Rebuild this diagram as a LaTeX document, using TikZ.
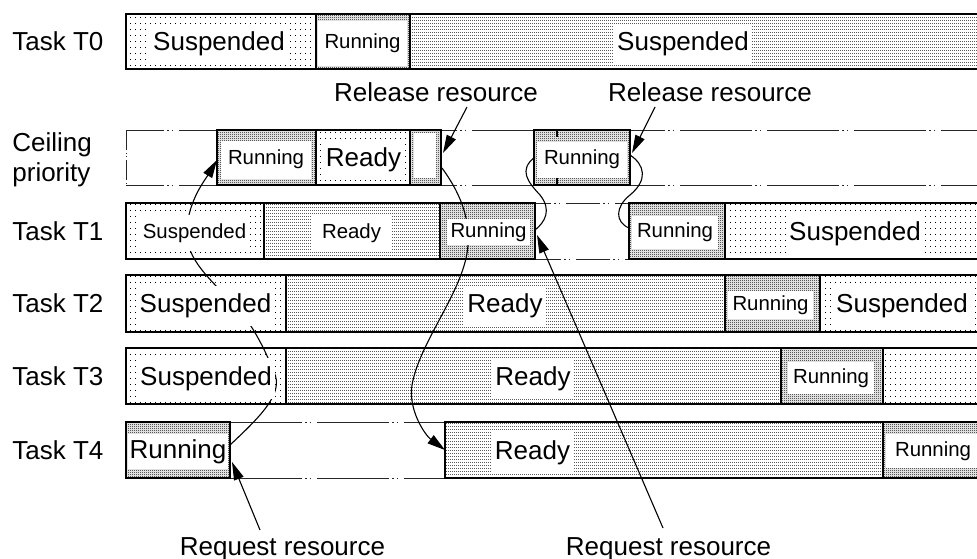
\documentclass[tikz,border=0pt]{standalone}
\usepackage{fontspec}
\setmainfont{Liberation Sans}
\usetikzlibrary{patterns,fit,arrows.meta}
\pgfdeclarepatternformonly{spd}{\pgfqpoint{0pt}{0pt}}{\pgfqpoint{2.5pt}{3pt}}{\pgfqpoint{2.5pt}{3pt}}{%
  \pgfpathrectangle{\pgfqpoint{0pt}{0pt}}{\pgfqpoint{0.55pt}{0.55pt}}\pgfusepath{fill}}
\pgfdeclarepatternformonly{rdy}{\pgfqpoint{0pt}{0pt}}{\pgfqpoint{1pt}{1.5pt}}{\pgfqpoint{1pt}{1.5pt}}{%
  \pgfpathrectangle{\pgfqpoint{0pt}{0pt}}{\pgfqpoint{0.5pt}{0.5pt}}\pgfusepath{fill}}
\pgfdeclarepatternformonly{run}{\pgfqpoint{0pt}{0pt}}{\pgfqpoint{1pt}{1pt}}{\pgfqpoint{1pt}{1pt}}{%
  \pgfpathrectangle{\pgfqpoint{0pt}{0pt}}{\pgfqpoint{0.5pt}{0.5pt}}%
  \pgfpathrectangle{\pgfqpoint{0.5pt}{0.5pt}}{\pgfqpoint{0.5pt}{0.5pt}}\pgfusepath{fill}}
\tikzset{
  bx/.style={draw, line width=1.1pt, inner sep=0pt},
  fbig/.style={font=\fontsize{13}{15}\selectfont, text height=9.5pt, text depth=2.75pt},
  fsmall/.style={font=\fontsize{10.2}{12}\selectfont, text height=7.5pt, text depth=2.2pt},
  wb/.style={fill=white, inner xsep=1.5pt, inner ysep=4pt},
  rw/.style={fill=white, inner sep=0pt},
  lab/.style={fbig, inner sep=0pt},
  dd/.style={draw=black!85, line width=0.5pt, dash pattern=on 36pt off 1.5pt on 1pt off 1.5pt on 0.5pt off 3pt},
  ddshort/.style={draw=black!85, line width=0.5pt, dash pattern=on 17pt off 1.5pt on 1pt off 1.5pt on 0.5pt off 3pt},
  conn/.style={line width=0.55pt},
  arr/.style={conn, -{Triangle[length=9pt,width=5pt]}},
}
\begin{document}
\begin{tikzpicture}[x=0.5pt,y=-0.5pt]
\useasboundingbox (0,0) rectangle (977,558);

% dash-dot outlines of idle stretches
\draw[dd, dash phase=17pt] (126,130) -- (217,130);
\draw[dd, dash phase=17pt] (126,185) -- (217,185);
\draw[draw=black!85, line width=0.5pt, dash pattern=on 10pt off 1.5pt on 0.5pt off 1pt on 0.5pt off 1.5pt] (126,130) -- (126,185);
\draw[dd, dash phase=28pt] (441,130) -- (534,130);
\draw[dd, dash phase=28pt] (441,185) -- (534,185);
\draw[dd, dash phase=18.5pt] (630,130) -- (990,130);
\draw[dd, dash phase=18.5pt] (630,185) -- (990,185);
\draw[ddshort, dash phase=9pt] (535,203) -- (629,203);
\draw[ddshort, dash phase=4pt] (535,259) -- (629,259);
\draw[dd, dash phase=0pt] (230,422) -- (445,422);
\draw[dd, dash phase=0pt] (230,478) -- (445,478);

% Task T0
\node[bx,pattern=spd,fit={(126,14) (316,69)}] (t0a) {};
\node[bx,pattern=run,fit={(316,14) (410,69)}] (t0b) {};
\node[bx,pattern=rdy,fit={(410,14) (990,69)}] (t0c) {};
% Ceiling priority
\node[bx,pattern=run,fit={(217,130) (316,185)}] (ca) {};
\node[bx,pattern=spd,fit={(316,130) (410,185)}] (cb) {};
\node[bx,pattern=run,fit={(410,130) (441,185)}] (cc) {};
\node[bx,pattern=run,fit={(534,130) (630,185)}] (cd) {};
\draw[line width=1.1pt] (557,130) -- (557,137) (557,178) -- (557,185);
% Task T1
\node[bx,pattern=spd,fit={(126,203) (264,259)}] (t1a) {};
\node[bx,pattern=rdy,fit={(264,203) (440,259)}] (t1b) {};
\node[bx,pattern=run,fit={(440,203) (535,259)}] (t1c) {};
\node[bx,pattern=run,fit={(629,203) (725,259)}] (t1d) {};
\node[bx,pattern=spd,fit={(725,203) (990,259)}] (t1e) {};
% Task T2
\node[bx,pattern=spd,fit={(126,275) (286,332)}] (t2a) {};
\node[bx,pattern=rdy,fit={(286,275) (725,332)}] (t2b) {};
\node[bx,pattern=run,fit={(725,275) (820,332)}] (t2c) {};
\node[bx,pattern=spd,fit={(820,275) (990,332)}] (t2d) {};
% Task T3
\node[bx,pattern=spd,fit={(126,348) (286,404)}] (t3a) {};
\node[bx,pattern=rdy,fit={(286,348) (781,404)}] (t3b) {};
\node[bx,pattern=run,fit={(781,348) (883,404)}] (t3c) {};
\node[bx,pattern=spd,fit={(883,348) (990,404)}] (t3d) {};
% Task T4
\node[bx,pattern=run,fit={(126,422) (230,478)}] (t4a) {};
\node[bx,pattern=rdy,fit={(445,422) (883,478)}] (t4b) {};
\node[bx,pattern=run,fit={(883,422) (990,478)}] (t4c) {};

% connectors
\coordinate (a0) at (230,445);
\coordinate (a1) at (274,372);
\coordinate (a2) at (232,302);
\coordinate (a3) at (187,228);
\coordinate (a4) at (217,160);
\draw[arr] (a0) .. controls (262,415) and (284,393) .. (a1)
  .. controls (264,347) and (250,320) .. (a2)
  .. controls (205,275) and (184,255) .. (a3)
  .. controls (189,200) and (205,180) .. (a4);

\coordinate (b0) at (442,168);
\coordinate (b1) at (468,245);
\coordinate (b2) at (412,385);
\coordinate (b3) at (445,450);
\draw[arr] (b0) .. controls (458,190) and (470,215) .. (b1)
  .. controls (465,290) and (420,340) .. (b2)
  .. controls (408,410) and (425,435) .. (b3);

\coordinate (c0) at (535,230);
\coordinate (c1) at (540,195);
\coordinate (c2) at (535,157);
\draw[conn] (c0) .. controls (545,222) and (552,210) .. (c1)
  .. controls (528,182) and (518,170) .. (c2);

\coordinate (d0) at (630,155);
\coordinate (d1) at (630,195);
\coordinate (d2) at (629,228);
\draw[conn] (d0) .. controls (645,165) and (648,180) .. (d1)
  .. controls (615,207) and (615,222) .. (d2);

% state texts
\node[fbig,wb] (t0at) at (219,44) {Suspended};
\node[fsmall,rw,minimum width=44.5pt,minimum height=22.5pt] (t0bt) at (362.5,43.5) {Running};
\node[fbig,wb] (t0ct) at (683,44) {Suspended};

\node[fsmall,rw,minimum width=45pt,minimum height=19pt] (cat) at (266,159.5) {Running};
\node[fbig,wb] (cbt) at (363.5,160) {Ready};
\node[rw,minimum width=11pt,minimum height=22.5pt] (cct) at (425,155.5) {};
\node[fsmall,rw,minimum width=45pt,minimum height=18pt] (cdt) at (582,159.5) {Running};

\node[fsmall,wb] (t1at) at (194.5,233) {Suspended};
\node[fsmall,wb,minimum width=39.5pt] (t1bt) at (351.5,233) {Ready};
\node[fsmall,rw,minimum width=41.5pt,minimum height=13pt] (t1ct) at (488.5,232) {Running};
\node[fsmall,rw,minimum width=43pt,minimum height=16.5pt] (t1dt) at (675,232) {Running};
\node[fbig,wb] (t1et) at (855,233.5) {Suspended};

\node[fbig,wb] (t2at) at (205.5,306) {Suspended};
\node[fbig,wb] (t2bt) at (505,306) {Ready};
\node[fsmall,rw,minimum width=42.5pt,minimum height=14pt] (t2ct) at (770.5,305) {Running};
\node[fbig,wb] (t2dt) at (902,306) {Suspended};

\node[fbig,wb] (t3at) at (206,378.5) {Suspended};
\node[fbig,wb] (t3bt) at (533,378.5) {Ready};
\node[fsmall,rw,minimum width=43pt,minimum height=16pt] (t3ct) at (831,378) {Running};

\node[fbig,rw,minimum width=50pt,minimum height=17.5pt] (t4at) at (178,451.5) {Running};
\node[fbig,wb] (t4bt) at (532.5,452.5) {Ready};
\node[fsmall,rw,minimum width=47pt,minimum height=17pt] (t4ct) at (933,451) {Running};

% row labels
\node[lab,anchor=west] (l0) at (12,44) {Task T0};
\node[lab,anchor=base west] (lc1) at (12,151.5) {Ceiling};
\node[lab,anchor=base west] (lc2) at (12,181.5) {priority};
\node[lab,anchor=west] (l1) at (12,233.5) {Task T1};
\node[lab,anchor=west] (l2) at (12,306) {Task T2};
\node[lab,anchor=west] (l3) at (12,378.5) {Task T3};
\node[lab,anchor=west] (l4) at (12,452.5) {Task T4};

% event labels and arrows
\node[fbig] (rel1) at (436,94.5) {Release resource};
\node[fbig] (rel2) at (710,94.5) {Release resource};
\node[fbig] (req1) at (282.5,548.5) {Request resource};
\node[fbig] (req2) at (668.5,548.5) {Request resource};
\coordinate (r1s) at (467,107);
\coordinate (r1e) at (443,153);
\coordinate (r2s) at (655,107);
\coordinate (r2e) at (632,153);
\coordinate (q1s) at (260,530);
\coordinate (q1e) at (232,462);
\coordinate (q2s) at (663,528);
\coordinate (q2e) at (537,235);
\draw[arr] (r1s) -- (r1e);
\draw[arr] (r2s) -- (r2e);
\draw[arr] (q1s) -- (q1e);
\draw[arr] (q2s) -- (q2e);
\end{tikzpicture}
\end{document}
